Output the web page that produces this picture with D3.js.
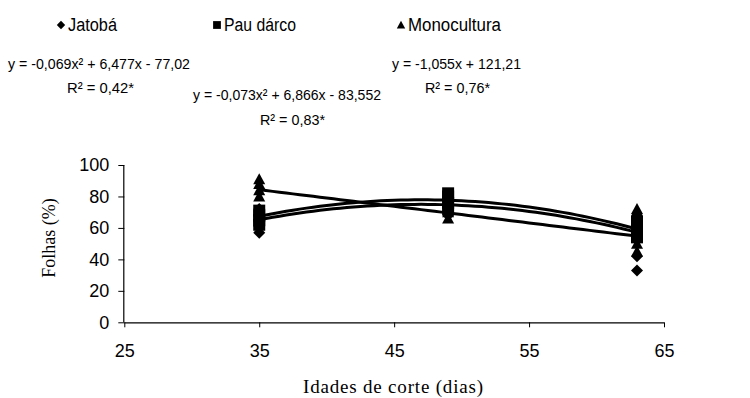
<!DOCTYPE html>
<html>
<head>
<meta charset="utf-8">
<style>
  body { margin: 0; background: #fff; }
  text { fill: #000; }
</style>
</head>
<body>
<svg width="750" height="398"></svg>
<script src="https://cdn.jsdelivr.net/npm/d3@7/dist/d3.min.js"></script>
<script>
// idades de corte e observações por tratamento
var ages = [35, 49, 63];
var jatoba = [[57, 61, 64, 68, 72], [68, 72, 76, 78], [33, 42, 60, 65, 68]];
var pauDarco = [[62, 65, 68, 71], [72, 76, 80, 82], [54, 58, 62, 64]];
var monocultura = [[80, 84, 88, 91], [66, 70, 74], [45, 50, 55, 72]];

// coeficientes das equações exibidas (c2, c1, c0)
var coefJatoba = [-0.069, 6.477, -77.02];
var coefPau = [-0.073, 6.866, -83.552];
var coefMono = [0, -1.055, 121.21];

var xTicks = [25, 35, 45, 55, 65];
var yTicks = [0, 20, 40, 60, 80, 100];

var svg = d3.select('svg');
var sans = '"Liberation Sans", Arial, sans-serif';
var serif = '"Liberation Serif", "Times New Roman", serif';

var x = d3.scaleLinear().domain([25, 65]).range([124.3, 664]);
var y = d3.scaleLinear().domain([0, 100]).range([322.3, 165]);

var g = svg.append('g');

// eixos
var yAxis = g.append('g')
    .attr('transform', 'translate(' + x(25) + ',0)')
    .call(d3.axisLeft(y).tickValues(yTicks).tickSize(6).tickPadding(9));
var xAxis = g.append('g')
    .attr('transform', 'translate(0,' + y(0) + ')')
    .call(d3.axisBottom(x).tickValues(xTicks).tickSize(5).tickPadding(17));
[xAxis, yAxis].forEach(function (a) {
    a.select('.domain').attr('stroke', '#000').attr('stroke-width', 1.2);
    a.selectAll('.tick line').attr('stroke', '#000');
    a.selectAll('.tick text').attr('font-family', sans).attr('font-size', 18).attr('fill', '#000');
});
yAxis.select('.domain').attr('d', 'M-0.5,' + y(100) + 'V' + y(0));
xAxis.select('.domain').attr('d', 'M' + x(25) + ',0.5H' + x(65));

// linhas de tendência
function curve(c) {
    var pts = d3.range(35, 63.01, 0.5).map(function (t) {
        return [t, c[0] * t * t + c[1] * t + c[2]];
    });
    return d3.line().x(function (d) { return x(d[0]); }).y(function (d) { return y(d[1]); })(pts);
}
[coefJatoba, coefPau, coefMono].forEach(function (c) {
    g.append('path').attr('d', curve(c)).attr('fill', 'none')
        .attr('stroke', '#000').attr('stroke-width', 3);
});

// marcadores
var shapes = {
    diamond: 'M0,-6L6,0L0,6L-6,0Z',
    square: 'M-6,-6H6V6H-6Z',
    triangle: 'M0,-6L6,5H-6Z'
};
function drawSeries(data, shape) {
    var pts = [];
    data.forEach(function (vals, i) {
        vals.forEach(function (v) { pts.push([ages[i], v]); });
    });
    g.append('g').selectAll('path').data(pts).enter().append('path')
        .attr('d', shapes[shape])
        .attr('transform', function (d) { return 'translate(' + x(d[0]) + ',' + y(d[1]) + ')'; })
        .attr('fill', '#000');
}
drawSeries(jatoba, 'diamond');
drawSeries(pauDarco, 'square');
drawSeries(monocultura, 'triangle');

// legenda
var legend = [
    { name: 'Jatobá', shape: 'diamond', x: 61, s: 0.7, w: 49 },
    { name: 'Pau dárco', shape: 'square', x: 217, s: 0.65, w: 72 },
    { name: 'Monocultura', shape: 'triangle', x: 401, s: 0.7, w: 93 }
];
legend.forEach(function (l) {
    svg.append('path').attr('d', shapes[l.shape])
        .attr('transform', 'translate(' + l.x + ',25) scale(' + l.s + ')')
        .attr('fill', '#000');
    svg.append('text').attr('x', l.x + 7).attr('y', 31)
        .attr('font-family', sans).attr('font-size', 18)
        .attr('textLength', l.w).attr('lengthAdjust', 'spacingAndGlyphs').text(l.name);
});

// equações
var eqs = [
    { t: 'y = -0,069x² + 6,477x - 77,02', x: 8, y: 69, w: 182 },
    { t: 'R² = 0,42*', x: 67, y: 93, w: 67 },
    { t: 'y = -0,073x² + 6,866x - 83,552', x: 193, y: 100, w: 188 },
    { t: 'R² = 0,83*', x: 260, y: 125, w: 65 },
    { t: 'y = -1,055x + 121,21', x: 392, y: 69, w: 129 },
    { t: 'R² = 0,76*', x: 425, y: 93, w: 65 }
];
eqs.forEach(function (e) {
    svg.append('text').attr('x', e.x).attr('y', e.y)
        .attr('font-family', sans).attr('font-size', 15.5)
        .attr('textLength', e.w).attr('lengthAdjust', 'spacingAndGlyphs').text(e.t);
});

// títulos dos eixos
svg.append('text').attr('x', 303).attr('y', 393)
    .attr('font-family', serif).attr('font-size', 19)
    .attr('textLength', 180).attr('lengthAdjust', 'spacing').text('Idades de corte (dias)');
svg.append('text').attr('transform', 'translate(55,238) rotate(-90)').attr('text-anchor', 'middle')
    .attr('font-family', serif).attr('font-size', 18).text('Folhas (%)');
</script>
</body>
</html>
